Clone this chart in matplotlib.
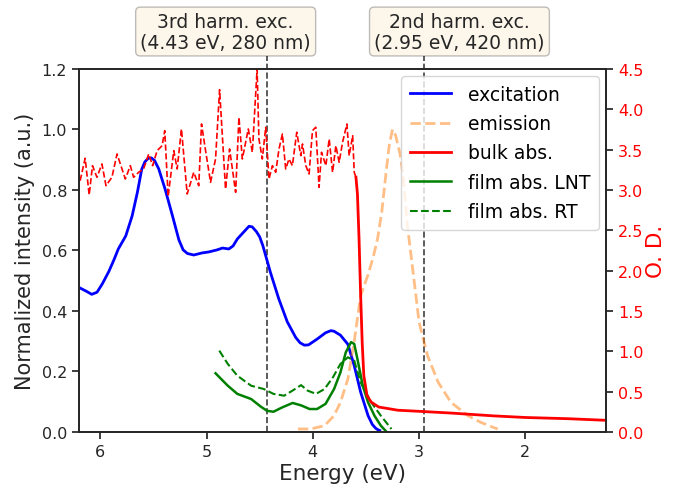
import numpy as np
import matplotlib
matplotlib.use("Agg")
import matplotlib.pyplot as plt
from matplotlib.transforms import blended_transform_factory

# ---- data -----------------------------------------------------------------
exc_E = [6.19, 6.13, 6.08, 6.03, 5.98, 5.92, 5.87, 5.83, 5.76, 5.70, 5.65, 5.61,
         5.58, 5.55, 5.52, 5.49, 5.45, 5.39, 5.32, 5.26, 5.22, 5.18, 5.12, 5.04,
         4.98, 4.90, 4.85, 4.79, 4.75, 4.71, 4.65, 4.60, 4.57, 4.53, 4.50, 4.47,
         4.40, 4.32, 4.24, 4.16, 4.12, 4.08, 4.04, 3.96, 3.88, 3.83, 3.80, 3.74,
         3.67, 3.61, 3.55, 3.48, 3.44, 3.41, 3.39, 3.37]
exc_I = [0.476, 0.465, 0.455, 0.462, 0.490, 0.530, 0.570, 0.605, 0.648, 0.714,
         0.793, 0.868, 0.893, 0.904, 0.906, 0.898, 0.870, 0.803, 0.714, 0.635,
         0.602, 0.590, 0.585, 0.592, 0.595, 0.602, 0.608, 0.605, 0.615, 0.638,
         0.661, 0.680, 0.678, 0.662, 0.645, 0.616, 0.529, 0.440, 0.364, 0.312,
         0.295, 0.287, 0.288, 0.307, 0.328, 0.335, 0.333, 0.320, 0.290, 0.219,
         0.132, 0.054, 0.025, 0.013, 0.008, 0.005]

em_E = [4.14, 4.02, 3.89, 3.80, 3.74, 3.67, 3.61, 3.55, 3.48, 3.43, 3.39, 3.35,
        3.31, 3.28, 3.25, 3.22, 3.18, 3.15, 3.11, 3.06, 3.00, 2.92, 2.82, 2.70,
        2.54, 2.42, 2.30, 2.26]
em_I = [0.010, 0.010, 0.021, 0.054, 0.098, 0.175, 0.300, 0.450, 0.520, 0.580,
        0.640, 0.730, 0.860, 0.950, 1.000, 0.980, 0.920, 0.847, 0.682, 0.539,
        0.363, 0.252, 0.164, 0.098, 0.054, 0.032, 0.015, 0.010]

lnt_E = [4.915, 4.80, 4.71, 4.58, 4.49, 4.43, 4.37, 4.29, 4.19, 4.11, 4.03, 3.96,
         3.88, 3.80, 3.74, 3.69, 3.64, 3.61, 3.58, 3.53, 3.48, 3.42, 3.36, 3.31]
lnt_A = [0.194, 0.153, 0.126, 0.109, 0.084, 0.070, 0.067, 0.081, 0.096, 0.088,
         0.076, 0.076, 0.093, 0.142, 0.197, 0.263, 0.297, 0.291, 0.241, 0.153,
         0.098, 0.054, 0.021, 0.002]

rt_E = [4.88, 4.80, 4.71, 4.58, 4.46, 4.37, 4.27, 4.19, 4.11, 4.05, 3.97, 3.89,
        3.81, 3.74, 3.67, 3.61, 3.55, 3.45, 3.36, 3.26]
rt_A = [0.269, 0.225, 0.186, 0.153, 0.142, 0.126, 0.120, 0.137, 0.155, 0.137,
        0.126, 0.142, 0.181, 0.225, 0.247, 0.236, 0.164, 0.098, 0.054, 0.010]

# bulk O.D.; above the absorption edge the signal is saturated (noisy)
bulk_E = [6.189, 6.142, 6.104, 6.073, 6.031, 5.984, 5.946, 5.890, 5.842, 5.764,
          5.717, 5.686, 5.639, 5.592, 5.544, 5.507, 5.465, 5.418, 5.393, 5.361,
          5.308, 5.276, 5.236, 5.182, 5.120, 5.073, 5.047, 5.009, 4.962, 4.915,
          4.877, 4.821, 4.783, 4.726, 4.695, 4.663, 4.607, 4.569, 4.524, 4.507,
          4.475, 4.443, 4.412, 4.380, 4.349, 4.318, 4.286, 4.255, 4.224, 4.192,
          4.151, 4.113, 4.097, 4.066, 4.035, 4.003, 3.972, 3.941, 3.918, 3.877,
          3.846, 3.814, 3.783, 3.752, 3.720, 3.679, 3.658, 3.625, 3.610, 3.594,
          3.580, 3.565, 3.550, 3.535, 3.520, 3.490, 3.450, 3.380, 3.200, 2.980,
          2.700, 2.300, 2.000, 1.600, 1.240]
bulk_OD = [3.115, 3.393, 2.938, 3.301, 3.157, 3.322, 3.053, 3.157, 3.446, 3.136,
           3.301, 3.157, 3.219, 3.260, 3.446, 3.301, 3.487, 3.549, 3.735, 2.920,
           3.487, 3.260, 3.756, 2.950, 3.219, 3.053, 3.818, 3.487, 3.095, 3.384,
           4.243, 3.012, 3.508, 2.971, 3.901, 3.384, 3.756, 3.467, 4.500, 3.632,
           3.384, 3.777, 3.136, 3.301, 3.219, 3.508, 3.694, 3.260, 3.384, 3.301,
           3.715, 3.425, 3.570, 3.301, 3.198, 3.735, 3.777, 3.033, 3.467, 3.301,
           3.632, 3.219, 3.549, 3.343, 3.591, 3.818, 3.425, 3.673, 3.219, 3.157,
           2.950, 2.400, 1.700, 1.100, 0.700, 0.450, 0.370, 0.310, 0.270, 0.255,
           0.235, 0.200, 0.180, 0.165, 0.145]
bulk_edge = 3.594  # split between saturated (dashed) and valid (solid) range

exc_lines = [(4.43, "3rd harm. exc.\n(4.43 eV, 280 nm)", 4.82),
             (2.95, "2nd harm. exc.\n(2.95 eV, 420 nm)", 2.62)]

# ---- style ------------------------------------------------------------------
dark = "#262626"
plt.rcParams.update({
    "font.family": "DejaVu Sans",
    "axes.edgecolor": dark,
    "axes.linewidth": 1.25,
    "xtick.color": dark,
    "ytick.color": dark,
    "xtick.major.size": 5,
    "ytick.major.size": 5,
    "xtick.major.width": 1.25,
    "ytick.major.width": 1.25,
    "xtick.labelsize": 11.5,
    "ytick.labelsize": 11.5,
})

fig = plt.figure(figsize=(6.78, 4.89), dpi=100)
ax = fig.add_axes([0.1165, 0.1145, 0.7775, 0.7425])
ax2 = ax.twinx()

h_exc, = ax.plot(exc_E, exc_I, color="blue", lw=2, label="excitation")
h_em, = ax.plot(em_E, em_I, color="C1", alpha=0.5, lw=2, ls="--", label="emission")
h_lnt, = ax.plot(lnt_E, lnt_A, color="green", lw=1.8, label="film abs. LNT")
h_rt, = ax.plot(rt_E, rt_A, color="green", lw=1.5, ls="--", label="film abs. RT")

bE = np.array(bulk_E)
bOD = np.array(bulk_OD)
sat = bE >= bulk_edge
ax2.plot(bE[sat], bOD[sat], color="red", lw=1.2, ls="--")
h_bulk, = ax2.plot(bE[bE <= bulk_edge], bOD[bE <= bulk_edge], color="red", lw=2,
                   label="bulk abs.")

ax.set_xlim(6.2, 1.24)
ax.set_ylim(0, 1.2)
ax2.set_ylim(0, 4.5)
ax.set_xticks([6, 5, 4, 3, 2])
ax.set_yticks(np.arange(0, 1.21, 0.2))
ax2.set_yticks(np.arange(0, 4.51, 0.5))
ax.yaxis.set_major_formatter(matplotlib.ticker.FormatStrFormatter("%.1f"))
ax2.yaxis.set_major_formatter(matplotlib.ticker.FormatStrFormatter("%.1f"))
ax2.tick_params(axis="y", labelcolor="red")

ax.set_xlabel("Energy (eV)", fontsize=15.5, color=dark, labelpad=3)
ax.set_ylabel("Normalized intensity (a.u.)", fontsize=15, color=dark, labelpad=5)
ax2.set_ylabel("O. D.", fontsize=15.5, color="red", labelpad=2)

trans = blended_transform_factory(ax.transData, ax.transAxes)
for x, txt, xt in exc_lines:
    ax.plot([x, x], [0, 1.035], transform=trans, color="k", ls="--", lw=1.2,
            alpha=0.75, clip_on=False, zorder=1)
    ax.text(xt, 1.103, txt, transform=trans, ha="center", va="center",
            fontsize=13.5, color=dark, linespacing=1.1,
            bbox=dict(boxstyle="round,pad=0.25", facecolor="wheat", alpha=0.25))

ax2.legend(handles=[h_exc, h_em, h_bulk, h_lnt, h_rt], loc="upper right",
           fontsize=13.5, borderaxespad=0.4, handlelength=2.2, labelspacing=0.55,
           handletextpad=0.9, borderpad=0.45)

fig.savefig("out.png", dpi=100)
